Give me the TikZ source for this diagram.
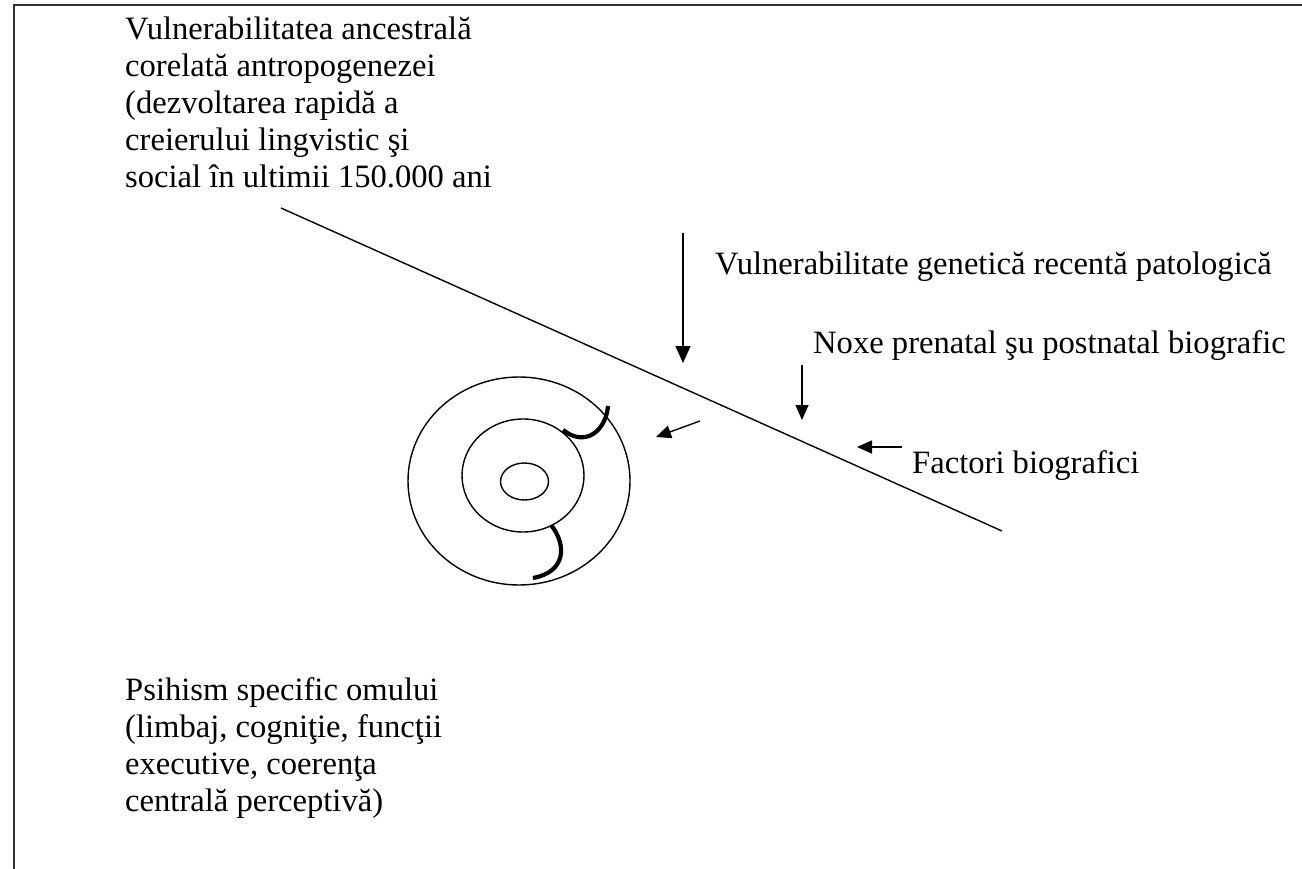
\documentclass[tikz,border=0pt]{standalone}
\usepackage{fontspec}
\setmainfont{Liberation Serif}
\usetikzlibrary{arrows.meta,shapes.geometric}
\begin{document}
\begin{tikzpicture}[x=1pt,y=-1pt,
  lbl/.style={font=\fontsize{32.6}{37}\selectfont, inner sep=0pt, align=left, anchor=base west},
  thinline/.style={line width=1.4pt},
  arr/.style={line width=1.4pt, -{Triangle[length=17pt,width=15pt]}},
  sarr/.style={line width=1.4pt, -{Triangle[length=15pt,width=13pt]}},
  hookline/.style={line width=4.2pt},
  frame/.style={line width=2pt, black!80},
  ring/.style={draw, line width=1.4pt, ellipse, inner sep=0pt},
]
\useasboundingbox (0,0) rectangle (1302,869);
% frame (top and left edges)
\draw[frame] (14,869) -- (14,5) -- (1302,5);

% texts (base anchor = baseline of last line)
\node[lbl] (anc) at (125,188) {Vulnerabilitatea ancestrală\\corelată antropogenezei\\(dezvoltarea rapidă a\\creierului lingvistic şi\\social în ultimii 150.000 ani};
\node[lbl] (gen) at (715,275) {Vulnerabilitate genetică recentă patologică};
\node[lbl] (nox) at (813,353) {Noxe prenatal şu postnatal biografic};
\node[lbl] (fac) at (912,473) {Factori biografici};
\node[lbl] (psi) at (125,811) {Psihism specific omului\\(limbaj, cogniţie, funcţii\\executive, coerenţa\\centrală perceptivă)};

% main diagonal line
\coordinate (d1) at (281,208);
\coordinate (d2) at (1002,531);
\draw[thinline] (d1) -- (d2);

% arrows
\coordinate (g1) at (683,233);
\coordinate (g2) at (683,363);
\draw[arr] (g1) -- (g2);
\coordinate (n1) at (802,365);
\coordinate (n2) at (802,420);
\draw[sarr] (n1) -- (n2);
\coordinate (s1) at (700,421);
\coordinate (s2) at (656,437);
\draw[sarr] (s1) -- (s2);
\coordinate (f1) at (902,447);
\coordinate (f2) at (857,447);
\draw[sarr] (f1) -- (f2);

% concentric ellipses
\node[ring, minimum width=222pt, minimum height=208pt] (outer) at (519,481) {};
\node[ring, minimum width=122pt, minimum height=113pt] (middle) at (523,475.5) {};
\node[ring, minimum width=48pt, minimum height=37pt] (inner) at (524.5,481.5) {};

% thick hooks
\draw[hookline] (608,406) .. controls (606,430) and (586,448) .. (563,430);
\draw[hookline] (551,525) .. controls (567,545) and (566,572) .. (533,578);
\end{tikzpicture}
\end{document}
